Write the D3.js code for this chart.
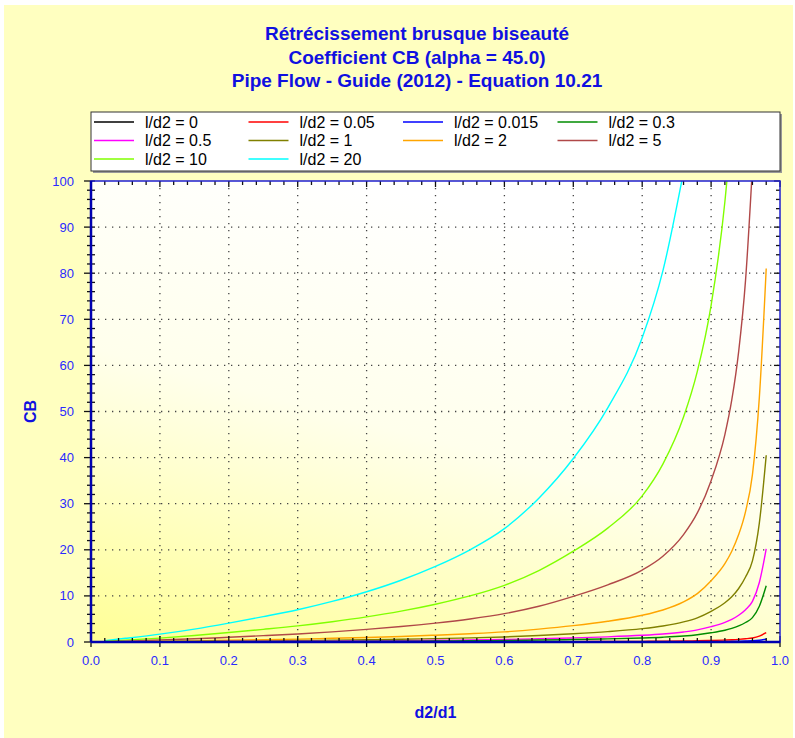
<!DOCTYPE html>
<html>
<head>
<meta charset="utf-8">
<script src="https://cdn.jsdelivr.net/npm/d3@7"></script>
<style>
  body { margin: 0; background: #fff; }
  svg { display: block; font-family: Arial, "Liberation Sans", sans-serif; }
</style>
</head>
<body>
<svg id="chart" width="795" height="738"></svg>
<script>
// d2/d1 values shared by every curve
const ratios = [0.02, 0.05, 0.1, 0.15, 0.2, 0.25, 0.3, 0.35, 0.4, 0.45, 0.5, 0.55, 0.6, 0.65, 0.7, 0.75,
                0.8, 0.83, 0.86, 0.88, 0.9, 0.92, 0.93, 0.94, 0.95, 0.96, 0.97, 0.98];

const labels = ['l/d2 = 0', 'l/d2 = 0.05', 'l/d2 = 0.015', 'l/d2 = 0.3', 'l/d2 = 0.5',
                'l/d2 = 1', 'l/d2 = 2', 'l/d2 = 5', 'l/d2 = 10', 'l/d2 = 20'];
const colors = ['#000000', '#ff0000', '#0000ff', '#008c00', '#ff00ff',
                '#808000', '#ffa500', '#b04848', '#80ff00', '#00ffff'];

// CB values (null = beyond the top of the plot)
const cb0    = [0, 0, 0, 0, 0, 0, 0, 0, 0, 0, 0, 0, 0, 0, 0, 0, 0, 0, 0, 0, 0, 0, 0, 0, 0, 0, 0, 0];
const cb005  = [0.001, 0.002, 0.004, 0.006, 0.009, 0.013, 0.016, 0.02, 0.025, 0.03, 0.037, 0.045, 0.055, 0.07,
                0.09, 0.11, 0.145, 0.174, 0.22, 0.26, 0.33, 0.43, 0.49, 0.58, 0.7, 0.88, 1.29, 2.03];
const cb0015 = [0, 0.001, 0.001, 0.002, 0.003, 0.004, 0.005, 0.006, 0.007, 0.009, 0.011, 0.014, 0.017, 0.021,
                0.027, 0.034, 0.044, 0.052, 0.065, 0.079, 0.1, 0.13, 0.15, 0.17, 0.21, 0.26, 0.39, 0.61];
const cb03   = [0.004, 0.011, 0.023, 0.038, 0.056, 0.075, 0.095, 0.12, 0.147, 0.18, 0.22, 0.27, 0.33, 0.42,
                0.53, 0.68, 0.87, 1.04, 1.3, 1.58, 2.0, 2.55, 2.94, 3.48, 4.23, 5.28, 7.75, 12.2];
const cb05   = [0.007, 0.018, 0.039, 0.063, 0.093, 0.125, 0.16, 0.2, 0.245, 0.3, 0.37, 0.45, 0.55, 0.7,
                0.89, 1.12, 1.45, 1.74, 2.18, 2.62, 3.32, 4.25, 4.9, 5.8, 7.0, 8.8, 12.9, 20.2];
const cb1    = [0.013, 0.036, 0.077, 0.126, 0.185, 0.25, 0.315, 0.4, 0.49, 0.6, 0.74, 0.9, 1.1, 1.4,
                1.78, 2.25, 2.9, 3.48, 4.35, 5.25, 6.65, 8.5, 9.8, 11.6, 14.1, 17.6, 25.8, 40.5];
const cb2    = [0.026, 0.072, 0.154, 0.25, 0.37, 0.5, 0.63, 0.8, 0.98, 1.2, 1.48, 1.8, 2.2, 2.8,
                3.55, 4.5, 5.8, 6.95, 8.7, 10.5, 13.3, 17.0, 19.7, 23.3, 28.3, 36.3, 53, 81];
const cb5    = [0.075, 0.2, 0.425, 0.7, 1.03, 1.38, 1.75, 2.2, 2.73, 3.35, 4.1, 5.0, 6.15, 7.75,
                9.9, 12.4, 15.6, 18.6, 23.3, 28, 35, 45, 52.5, 63, 78.5, 103, null, null];
const cb10   = [0.15, 0.4, 0.85, 1.4, 2.05, 2.75, 3.5, 4.4, 5.45, 6.7, 8.2, 10, 12.3, 15.5,
                19.7, 24.7, 31.7, 38.6, 48.8, 58.7, 73, 95.5, 112, null, null, null, null, null];
const cb20   = [0.3, 0.8, 1.7, 2.8, 4.1, 5.5, 7.0, 8.8, 10.9, 13.4, 16.4, 20, 24.6, 31.2,
                39.8, 50.8, 66, 80.5, 102, null, null, null, null, null, null, null, null, null];

const seriesValues = [cb0, cb005, cb0015, cb03, cb05, cb1, cb2, cb5, cb10, cb20];

const titleLines = ['Rétrécissement brusque biseauté', 'Coefficient CB (alpha = 45.0)',
                    'Pipe Flow - Guide (2012) - Equation 10.21'];

const svg = d3.select('#chart');
const width = 795, height = 738;
const margin = { top: 181, right: 15, bottom: 96, left: 91 };
const innerWidth = width - margin.left - margin.right;
const innerHeight = height - margin.top - margin.bottom;
const blue = '#1010e0';

// panel background
svg.append('rect')
    .attr('x', 4).attr('y', 5)
    .attr('width', width - 6).attr('height', height - 5)
    .attr('fill', '#ffffc0');

const defs = svg.append('defs');
const grad = defs.append('linearGradient')
    .attr('id', 'plotBg')
    .attr('x1', 0.4).attr('y1', 0).attr('x2', 0).attr('y2', 1);
grad.append('stop').attr('offset', '0%').attr('stop-color', '#ffffff');
grad.append('stop').attr('offset', '45%').attr('stop-color', '#ffffec');
grad.append('stop').attr('offset', '100%').attr('stop-color', '#ffff96');

defs.append('clipPath').attr('id', 'plotClip')
    .append('rect').attr('width', innerWidth).attr('height', innerHeight);

// title
svg.append('g').selectAll('text')
    .data(titleLines)
    .join('text')
    .attr('x', 417)
    .attr('y', (d, i) => 40 + i * 23.5)
    .attr('text-anchor', 'middle')
    .style('font-size', '19px')
    .style('font-weight', 'bold')
    .style('fill', blue)
    .text(d => d);

const x = d3.scaleLinear().domain([0, 1]).range([0, innerWidth]);
const y = d3.scaleLinear().domain([0, 100]).range([innerHeight, 0]);

const g = svg.append('g')
    .attr('transform', `translate(${margin.left},${margin.top})`);

g.append('rect')
    .attr('width', innerWidth).attr('height', innerHeight)
    .attr('fill', 'url(#plotBg)');

// dotted grid
const xMajor = d3.range(1, 10).map(i => i / 10);
const yMajor = d3.range(1, 10).map(i => i * 10);
g.append('g').selectAll('line')
    .data(xMajor)
    .join('line')
    .attr('x1', d => x(d)).attr('x2', d => x(d))
    .attr('y1', 0).attr('y2', innerHeight)
    .attr('stroke', '#444')
    .attr('stroke-width', 1.3)
    .attr('stroke-dasharray', '1.3,5.7');
g.append('g').selectAll('line')
    .data(yMajor)
    .join('line')
    .attr('x1', 0).attr('x2', innerWidth)
    .attr('y1', d => y(d)).attr('y2', d => y(d))
    .attr('stroke', '#444')
    .attr('stroke-width', 1.3)
    .attr('stroke-dasharray', '1.3,5.7');

// curves
const line = d3.line()
    .defined(d => d[1] !== null)
    .x(d => x(d[0]))
    .y(d => y(d[1]))
    .curve(d3.curveMonotoneX);

g.append('g')
    .attr('clip-path', 'url(#plotClip)')
    .selectAll('path')
    .data(seriesValues.map(vals => vals.map((v, i) => [ratios[i], v])).reverse())
    .join('path')
    .attr('d', line)
    .attr('fill', 'none')
    .attr('stroke', (d, i) => colors[colors.length - 1 - i])
    .attr('stroke-width', 1.4);

// ticks on all four sides
const xMinor = d3.range(0, 51).map(i => i / 50);
const yMinor = d3.range(0, 51).map(i => i * 2);
const isMajorX = d => Math.round(d * 50) % 5 === 0;
const tickColor = '#111';

g.append('g').selectAll('line')
    .data(xMinor)
    .join('line')
    .attr('x1', d => x(d)).attr('x2', d => x(d))
    .attr('y1', d => isMajorX(d) ? innerHeight - 6 : innerHeight - 4)
    .attr('y2', d => isMajorX(d) ? innerHeight + 5 : innerHeight)
    .attr('stroke', tickColor).attr('stroke-width', 1.3);
g.append('g').selectAll('line')
    .data(xMinor)
    .join('line')
    .attr('x1', d => x(d)).attr('x2', d => x(d))
    .attr('y1', 0)
    .attr('y2', d => isMajorX(d) ? 6 : 4)
    .attr('stroke', tickColor).attr('stroke-width', 1.3);
g.append('g').selectAll('line')
    .data(yMinor)
    .join('line')
    .attr('y1', d => y(d)).attr('y2', d => y(d))
    .attr('x1', d => (d % 10 === 0) ? -7 : -4)
    .attr('x2', 4)
    .attr('stroke', tickColor).attr('stroke-width', 1.3);
g.append('g').selectAll('line')
    .data(yMinor)
    .join('line')
    .attr('y1', d => y(d)).attr('y2', d => y(d))
    .attr('x1', innerWidth)
    .attr('x2', d => (d % 10 === 0) ? innerWidth - 6 : innerWidth - 4)
    .attr('stroke', tickColor).attr('stroke-width', 1.3);

// frame
g.append('rect')
    .attr('width', innerWidth).attr('height', innerHeight)
    .attr('fill', 'none')
    .attr('stroke', '#2020d0')
    .attr('stroke-width', 1.5);
g.append('line')
    .attr('x1', 0).attr('x2', 0).attr('y1', 0).attr('y2', innerHeight)
    .attr('stroke', '#0000b0').attr('stroke-width', 2.5);
g.append('line')
    .attr('x1', 0).attr('x2', innerWidth).attr('y1', innerHeight).attr('y2', innerHeight)
    .attr('stroke', '#0000b0').attr('stroke-width', 2.5);

// tick labels
g.append('g').selectAll('text')
    .data(d3.range(0, 11).map(i => i / 10))
    .join('text')
    .attr('x', d => x(d))
    .attr('y', innerHeight + 23)
    .attr('text-anchor', 'middle')
    .style('font-size', '13px')
    .style('fill', '#2a2aff')
    .text(d3.format('.1f'));
g.append('g').selectAll('text')
    .data(d3.range(0, 11).map(i => i * 10))
    .join('text')
    .attr('x', -17)
    .attr('y', d => y(d) + 4.5)
    .attr('text-anchor', 'end')
    .style('font-size', '13px')
    .style('fill', '#2a2aff')
    .text(d => d);

// axis titles
svg.append('text')
    .attr('x', margin.left + innerWidth / 2)
    .attr('y', 718)
    .attr('text-anchor', 'middle')
    .style('font-size', '16px')
    .style('font-weight', 'bold')
    .style('fill', blue)
    .text('d2/d1');
svg.append('text')
    .attr('transform', `translate(36,${margin.top + innerHeight / 2}) rotate(-90)`)
    .attr('text-anchor', 'middle')
    .style('font-size', '16px')
    .style('font-weight', 'bold')
    .style('fill', blue)
    .text('CB');

// legend
const legend = svg.append('g').attr('transform', 'translate(91,112)');
legend.append('rect')
    .attr('x', 2).attr('y', 2)
    .attr('width', innerWidth).attr('height', 59)
    .attr('fill', '#999');
legend.append('rect')
    .attr('width', innerWidth).attr('height', 59)
    .attr('fill', '#fff')
    .attr('stroke', '#333')
    .attr('stroke-width', 1);

labels.forEach((key, i) => {
    const col = i % 4, rowIdx = Math.floor(i / 4);
    const row = legend.append('g')
        .attr('transform', `translate(${3 + col * 154.5}, ${10 + rowIdx * 18.5})`);
    row.append('line')
        .attr('x1', 0).attr('x2', 40)
        .attr('y1', 0).attr('y2', 0)
        .attr('stroke', colors[i])
        .attr('stroke-width', 1.4);
    row.append('text')
        .attr('x', 51)
        .attr('y', 5.5)
        .style('font-size', '16px')
        .style('fill', '#000')
        .text(key);
});
</script>
</body>
</html>
